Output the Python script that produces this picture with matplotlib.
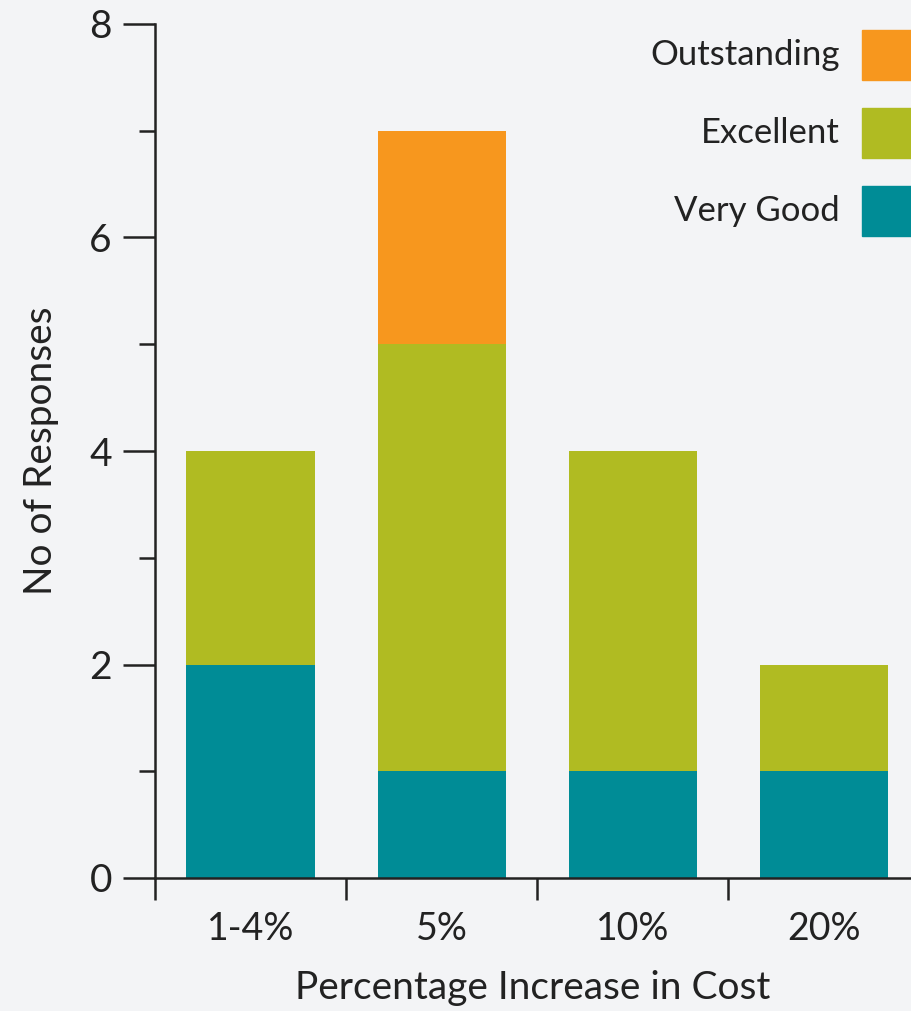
import matplotlib
matplotlib.use("Agg")
import matplotlib.pyplot as plt
from matplotlib.patches import Rectangle
import numpy as np

categories = ["1-4%", "5%", "10%", "20%"]
very_good = [2, 1, 1, 1]
excellent = [2, 4, 3, 1]
outstanding = [0, 2, 0, 0]

series_names = ["Outstanding", "Excellent", "Very Good"]
colors = {"Very Good": "#008c96", "Excellent": "#b0bb22", "Outstanding": "#f7971e"}

plt.rcParams["font.family"] = ["Lato", "DejaVu Sans"]
bg = "#f3f4f6"
ink = "#222222"

fig = plt.figure(figsize=(9.11, 10.11), dpi=100, facecolor=bg)
ax = fig.add_axes([155 / 911, (1011 - 878) / 1011, 1 - 155 / 911, (878 - 24) / 1011])
ax.set_facecolor(bg)

x = np.arange(len(categories))
w = 0.671
ax.bar(x, very_good, w, color=colors["Very Good"], zorder=2)
ax.bar(x, excellent, w, bottom=very_good, color=colors["Excellent"], zorder=2)
base = np.array(very_good) + np.array(excellent)
ax.bar(x, outstanding, w, bottom=base, color=colors["Outstanding"], zorder=2)

ax.set_xlim(-0.5, 3.456)
ax.set_ylim(0, 8)
for s in ["top", "right"]:
    ax.spines[s].set_visible(False)
for s in ["left", "bottom"]:
    ax.spines[s].set_linewidth(1.8)
    ax.spines[s].set_color(ink)
    ax.spines[s].set_zorder(3)

ax.set_yticks([0, 2, 4, 6, 8])
ax.set_yticks([1, 3, 5, 7], minor=True)
ax.tick_params(axis="y", which="major", length=23, width=1.8, color=ink,
               labelsize=28, labelcolor=ink, pad=8)
ax.tick_params(axis="y", which="minor", length=11.5, width=1.8, color=ink)

ax.set_xticks(x)
ax.set_xticklabels(categories)
ax.set_xticks([-0.5, 0.5, 1.5, 2.5], minor=True)
ax.tick_params(axis="x", which="major", length=0, labelsize=27, labelcolor=ink, pad=24)
ax.tick_params(axis="x", which="minor", length=16, width=1.8, color=ink)

ax.set_xlabel("Percentage Increase in Cost", fontsize=28, color=ink, labelpad=16)
ax.set_ylabel("No of Responses", fontsize=28, color=ink, labelpad=22)

# legend: labels right-aligned next to colour swatches
ys = [55, 133, 211]
for name, yc in zip(series_names, ys):
    fig.patches.append(Rectangle((862 / 911, 1 - (yc + 25) / 1011), 60 / 911, 50 / 1011,
                                 transform=fig.transFigure, color=colors[name]))
    fig.text(840 / 911, 1 - yc / 1011, name, ha="right", va="center",
             fontsize=25, color=ink)

fig.savefig("out.png", dpi=100, facecolor=bg)
